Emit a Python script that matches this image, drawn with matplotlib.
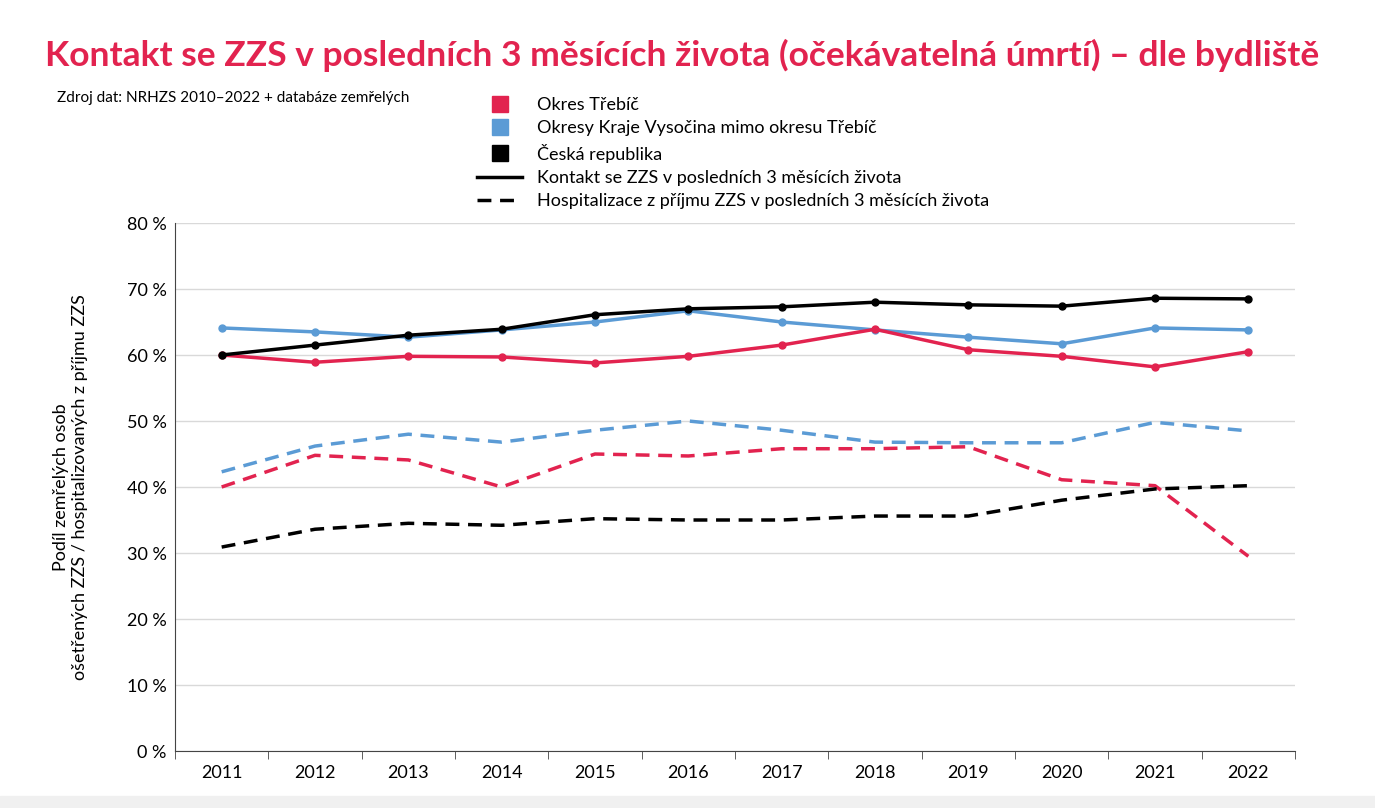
import matplotlib
matplotlib.use("Agg")
import matplotlib.pyplot as plt
from matplotlib.lines import Line2D
import numpy as np

plt.rcParams['font.family'] = ['Lato', 'DejaVu Sans']

years = ['2011', '2012', '2013', '2014', '2015', '2016', '2017', '2018', '2019', '2020', '2021', '2022']
trebic_kontakt = [60.0, 58.9, 59.8, 59.7, 58.8, 59.8, 61.5, 63.9, 60.8, 59.8, 58.2, 60.5]
vysocina_kontakt = [64.1, 63.5, 62.7, 63.8, 65.0, 66.7, 65.0, 63.8, 62.7, 61.7, 64.1, 63.8]
cr_kontakt = [60.0, 61.5, 63.0, 63.9, 66.1, 67.0, 67.3, 68.0, 67.6, 67.4, 68.6, 68.5]
trebic_hosp = [40.0, 44.8, 44.1, 40.0, 45.0, 44.7, 45.8, 45.8, 46.1, 41.1, 40.2, 29.5]
vysocina_hosp = [42.3, 46.2, 48.0, 46.8, 48.6, 50.0, 48.6, 46.8, 46.7, 46.7, 49.8, 48.5]
cr_hosp = [30.9, 33.6, 34.5, 34.2, 35.2, 35.0, 35.0, 35.6, 35.6, 38.0, 39.7, 40.2]

RED = '#E2234F'
BLUE = '#5B9BD5'
BLACK = '#000000'

fig = plt.figure(figsize=(13.75, 8.08), dpi=100)
ax = fig.add_axes([175/1375, 1-751/808, 1120/1375, 528/808])
x = np.arange(len(years))

for vals, c in [(trebic_hosp, RED), (vysocina_hosp, BLUE), (cr_hosp, BLACK)]:
    ax.plot(x, vals, color=c, lw=2.5, ls=(0, (4, 2.5)))
for vals, c in [(vysocina_kontakt, BLUE), (trebic_kontakt, RED), (cr_kontakt, BLACK)]:
    ax.plot(x, vals, color=c, lw=2.5, marker='o', ms=5)

ax.set_xlim(-0.5, len(years) - 0.5)
ax.set_ylim(0, 80)
ax.set_yticks(range(0, 81, 10))
ax.set_yticklabels([f'{v} %' for v in range(0, 81, 10)], fontsize=13)
ax.set_xticks(x)
ax.set_xticklabels(years, fontsize=13)
ax.set_xticks(np.arange(-0.5, len(years), 1), minor=True)
ax.tick_params(axis='x', which='major', length=0, pad=10)
ax.tick_params(axis='x', which='minor', length=6, color='#444444')
ax.tick_params(axis='y', length=0, pad=6)
ax.grid(axis='y', color='#D9D9D9', lw=1)
ax.set_axisbelow(True)
for s in ['top', 'right']:
    ax.spines[s].set_visible(False)
ax.spines['left'].set_color('#444444')
ax.spines['bottom'].set_color('#444444')
ax.set_ylabel('Podíl zemřelých osob\nošetřených ZZS / hospitalizovaných z příjmu ZZS', fontsize=13, labelpad=28)

fig.text(682/1375, 1-55/808, 'Kontakt se ZZS v posledních 3 měsících života (očekávatelná úmrtí) – dle bydliště',
         ha='center', va='center', fontsize=25.5, fontweight='bold', color=RED)
fig.text(57/1375, 1-98/808, 'Zdroj dat: NRHZS 2010–2022 + databáze zemřelých', fontsize=11, va='center')

handles = [
    Line2D([], [], ls='none', marker='s', ms=11, color=RED),
    Line2D([], [], ls='none', marker='s', ms=11, color=BLUE),
    Line2D([], [], ls='none', marker='s', ms=11, color=BLACK),
    Line2D([], [], color=BLACK, lw=2.5),
    Line2D([], [], color=BLACK, lw=2.5, ls=(0, (4, 2.5))),
]
labels = ['Okres Třebíč', 'Okresy Kraje Vysočina mimo okresu Třebíč', 'Česká republika',
          'Kontakt se ZZS v posledních 3 měsících života',
          'Hospitalizace z příjmu ZZS v posledních 3 měsících života']
fig.legend(handles, labels, loc='upper left', bbox_to_anchor=(470/1375, 1-90/808),
           frameon=False, fontsize=13, handlelength=2.5, labelspacing=0.4, borderaxespad=0)

fig.patches.append(plt.Rectangle((0, 0), 1, 12/808, transform=fig.transFigure, color='#F0F0F0', zorder=-1))
fig.savefig('out.png', dpi=100)
